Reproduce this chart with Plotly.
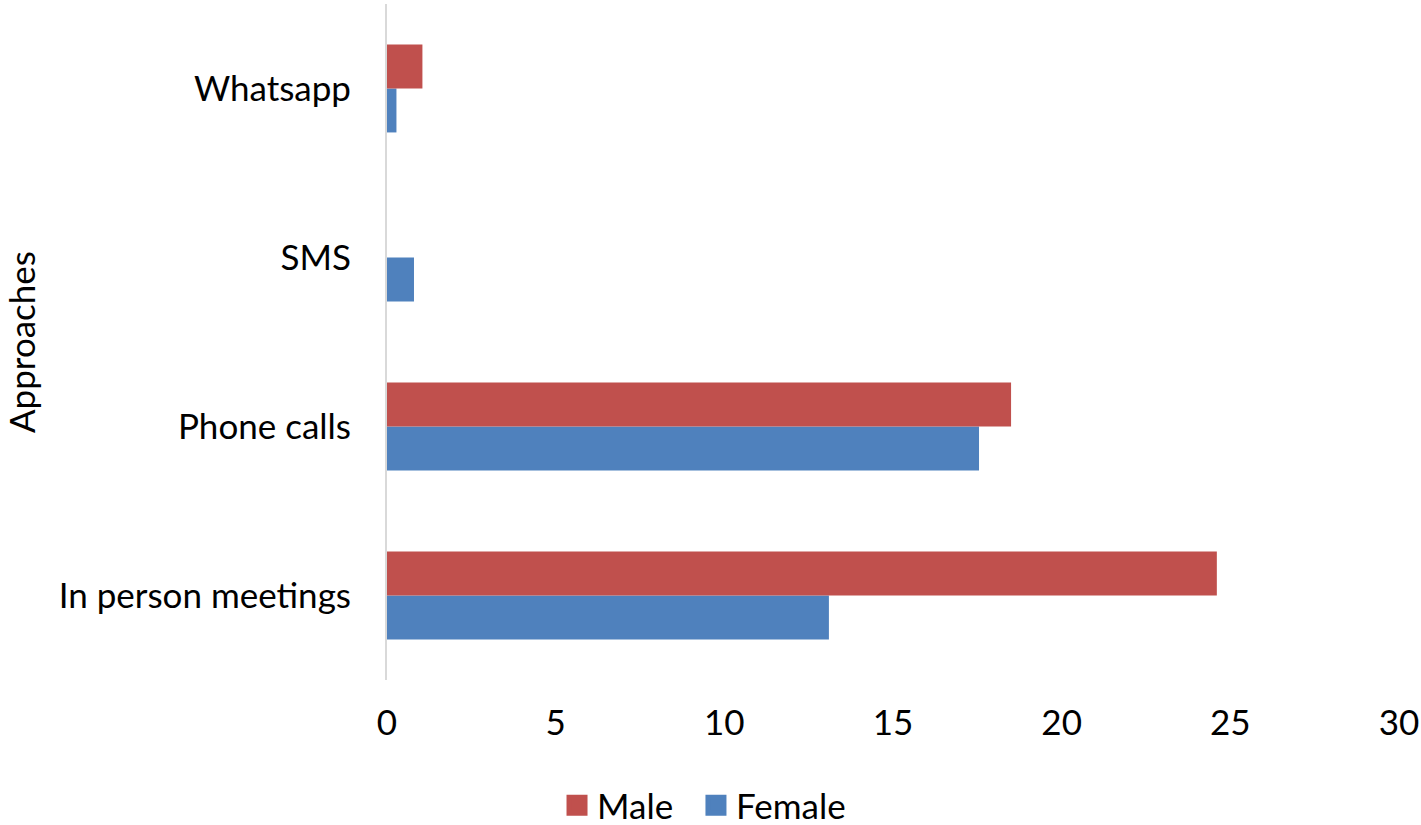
import plotly.graph_objects as go

categories = ["In person meetings", "Phone calls", "SMS", "Whatsapp"]
male = [24.6, 18.5, 0, 1.05]
female = [13.1, 17.55, 0.8, 0.28]
x_ticks = [0, 5, 10, 15, 20, 25, 30]

FONT = "Lato"
RED = "#C0504D"
BLUE = "#4F81BD"

fig = go.Figure()
fig.add_trace(go.Bar(y=categories, x=female, orientation="h", name="Female",
                     marker=dict(color=BLUE, line=dict(width=0)), showlegend=False))
fig.add_trace(go.Bar(y=categories, x=male, orientation="h", name="Male",
                     marker=dict(color=RED, line=dict(width=0)), showlegend=False))
# legend entries with larger square swatches
fig.add_trace(go.Scatter(x=[None], y=[None], mode="markers", name="Male",
                         marker=dict(symbol="square", size=16, color=RED,
                                     line=dict(width=5, color=RED)),
                         legend="legend"))
fig.add_trace(go.Scatter(x=[None], y=[None], mode="markers", name="Female",
                         marker=dict(symbol="square", size=16, color=BLUE,
                                     line=dict(width=5, color=BLUE)),
                         legend="legend2"))

leg_common = dict(orientation="h", xanchor="left", y=-0.142, yanchor="top",
                  font=dict(size=35, family=FONT), bgcolor="rgba(0,0,0,0)",
                  itemsizing="trace")

fig.update_layout(
    width=1421, height=825,
    margin=dict(l=387, r=22, t=4, b=145, pad=0, autoexpand=False),
    paper_bgcolor="white", plot_bgcolor="white",
    barmode="group", bargap=0.48, bargroupgap=0,
    font=dict(family=FONT, size=35, color="black"),
    showlegend=True,
    legend=dict(x=0.168, **leg_common),
    legend2=dict(x=0.3053, **leg_common),
    xaxis=dict(range=[0, 30], tickvals=x_ticks, showgrid=False, zeroline=False,
               showline=False, ticks="", ticklabelstandoff=19,
               tickfont=dict(size=35, family=FONT)),
    yaxis=dict(categoryorder="array", categoryarray=categories,
               showgrid=False, zeroline=False, showline=True,
               linecolor="#D9D9D9", linewidth=2, ticks="",
               ticklabelstandoff=27,
               tickfont=dict(size=35, family=FONT),
               title=dict(text="Approaches", font=dict(size=35, family=FONT),
                          standoff=16)),
)

fig.write_html("out.html", config={"displayModeBar": False},
               post_script="document.body.style.margin='0px';")
